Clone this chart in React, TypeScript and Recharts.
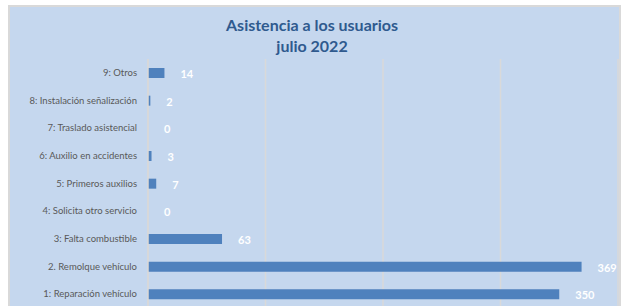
import { Bar, BarChart, CartesianGrid, LabelList, XAxis, YAxis } from "recharts";

// top to bottom, as in the reference
const categories = [
  "9: Otros",
  "8: Instalación señalización",
  "7: Traslado asistencial",
  "6: Auxilio en accidentes",
  "5: Primeros auxilios",
  "4: Solicita otro servicio",
  "3: Falta combustible",
  "2. Remolque vehículo",
  "1: Reparación vehículo",
];
const asistencias = [14, 2, 0, 3, 7, 0, 63, 369, 350];
const xTicks = [0, 100, 200, 300, 400];

const titleLines = ["Asistencia a los usuarios", "julio 2022"];

const data = categories.map((label, i) => ({ label, value: asistencias[i] }));

const font = "Lato, 'Open Sans', sans-serif";

function CategoryTick(props: any) {
  const { x, y, payload } = props;
  return (
    <text
      x={x}
      y={y}
      dy="0.35em"
      textAnchor="end"
      fill="#595959"
      fontSize={9.5}
      fontFamily={font}
    >
      {payload.value}
    </text>
  );
}

function ValueLabel(props: any) {
  const { x, y, width, height, value } = props;
  return (
    <text
      x={Number(x) + Number(width || 0) + 16}
      y={Number(y) + Number(height) / 2}
      dy="0.45em"
      fill="#ffffff"
      fontSize={11}
      fontWeight={700}
      fontFamily={font}
    >
      {value}
    </text>
  );
}

export default function App() {
  return (
    <div
      style={{
        position: "absolute",
        left: 0,
        top: 0,
        width: 624,
        height: 306,
        overflow: "hidden",
        background: "#ffffff",
      }}
    >
      <div
        style={{
          position: "absolute",
          left: 8,
          top: 5,
          width: 609,
          height: 320,
          background: "#c5d7ee",
          border: "2px solid #d9d9d9",
        }}
      />
      <div
        style={{
          position: "absolute",
          left: 0,
          top: 14,
          width: 624,
          textAlign: "center",
          fontFamily: font,
          fontWeight: 700,
          fontSize: 16,
          lineHeight: "21px",
          color: "#2f5a8e",
        }}
      >
        {titleLines.map((t) => (
          <div key={t}>{t}</div>
        ))}
      </div>
      <div style={{ position: "absolute", left: 0, top: 0 }}>
        <BarChart
          width={624}
          height={320}
          data={data}
          layout="vertical"
          margin={{ top: 59, right: 6, bottom: 12, left: 0 }}
          barCategoryGap={0}
        >
          <CartesianGrid horizontal={false} stroke="#d9d9d9" strokeWidth={1.5} />
          <XAxis type="number" domain={[0, 400]} ticks={xTicks} hide />
          <YAxis
            type="category"
            dataKey="label"
            width={148}
            tickLine={false}
            tickSize={0}
            tickMargin={11}
            axisLine={{ stroke: "#d9d9d9", strokeWidth: 1.5 }}
            interval={0}
            tick={<CategoryTick />}
          />
          <Bar
            dataKey="value"
            fill="#4f81bd"
            barSize={10}
            minPointSize={0.01}
            isAnimationActive={false}
          >
            <LabelList dataKey="value" content={<ValueLabel />} />
          </Bar>
        </BarChart>
      </div>
    </div>
  );
}
